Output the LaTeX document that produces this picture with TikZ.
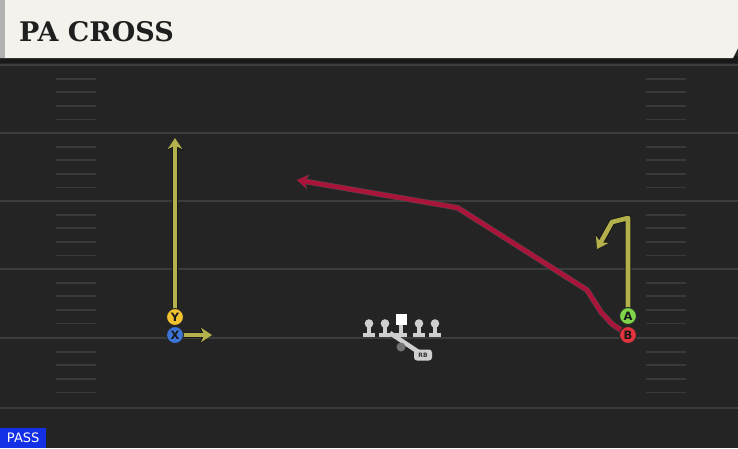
\documentclass[tikz,border=0pt]{standalone}
\usepackage{fontspec}
\setmainfont{DejaVu Sans}
\newfontfamily\titlefont{DejaVu Serif}
\usetikzlibrary{arrows.meta}
\definecolor{field}{HTML}{242424}
\definecolor{yardline}{HTML}{3C3C3C}
\definecolor{hashc}{HTML}{3A3A3A}
\definecolor{headbg}{HTML}{F4F2EC}
\definecolor{routeY}{HTML}{B4B14C}
\definecolor{routeR}{HTML}{A8143A}
\definecolor{pY}{HTML}{F2C230}
\definecolor{pX}{HTML}{3C74D8}
\definecolor{pA}{HTML}{7FD44A}
\definecolor{pB}{HTML}{E2333D}
\definecolor{oline}{HTML}{CFCFCF}
\definecolor{passblue}{HTML}{1430E6}
\tikzset{
  yard/.style={draw=yardline,line width=1.8pt},
  hashmark/.style={draw=hashc,line width=1.8pt},
  player/.style={circle,draw=black!85,line width=1pt,minimum size=17pt,inner sep=0pt,font=\bfseries\fontsize{11.5}{11.5}\selectfont,text=black!90},
  routeout/.style={draw=black!90,line width=6.6pt,line join=round,-{Stealth[length=13pt,width=18pt,inset=4pt]}},
  routeolive/.style={draw=routeY,line width=4.6pt,line join=round,-{Stealth[length=11pt,width=14.5pt,inset=3.4pt]}},
  routeredout/.style={draw=black!70,line width=5.6pt,line join=round,-{Stealth[length=11.5pt,width=15pt,inset=3.4pt]}},
  routered/.style={draw=routeR,line width=4.6pt,line join=round,-{Stealth[length=10.5pt,width=13.5pt,inset=3pt]}},
  lineman/.style={fill=oline}
}
\begin{document}
\begin{tikzpicture}[x=1pt,y=-1pt]
\useasboundingbox (0,0) rectangle (738,448);
\fill[field] (0,0) rectangle (738,448);
% yard lines
\foreach \y in {65,133,201,269,338,408} \draw[yard] (0,\y) -- (738,\y);
% hash marks
\foreach \y in {65,133,201,269,338} {
  \foreach \k in {1,2,3,4} {
    \draw[hashmark] (56,{\y+13.6*\k}) -- (96,{\y+13.6*\k});
    \draw[hashmark] (646,{\y+13.6*\k}) -- (686,{\y+13.6*\k});
  }
}
% header
\fill[black!90] (0,56) rectangle (738,63);
\fill[headbg] (0,0) -- (738,0) -- (738,48) -- (733,58) -- (0,58) -- cycle;
\fill[black!30] (0,0) rectangle (5,58);
\node[anchor=west,inner sep=0pt,text=black!88] (title) at (19,32) {\titlefont\bfseries\fontsize{27}{27}\selectfont PA CROSS};
% PASS label
\node[anchor=south west,fill=passblue,text=white,inner sep=0pt,minimum width=46pt,minimum height=20pt,font=\fontsize{13}{13}\selectfont] (pass) at (0,448) {PASS};
% route endpoints
\coordinate (yend) at (175,138);
\coordinate (xend) at (212,332);
\coordinate (a1) at (628,218);
\coordinate (a2) at (612,222);
\coordinate (aend) at (597,249);
\coordinate (b1) at (612,324);
\coordinate (b2) at (601,312);
\coordinate (b3) at (587,290);
\coordinate (b4) at (458,208);
\coordinate (b5) at (448,206);
\coordinate (bend) at (297,180);
% players positions
\coordinate (Yp) at (175,317);
\coordinate (Xp) at (175,335);
\coordinate (Ap) at (628,316);
\coordinate (Bp) at (628,335);
% routes (outline then colour)
\draw[routeout] (Yp) -- (yend);
\draw[routeolive] (Yp) -- (yend);
\draw[routeout] (Xp) -- (xend |- Xp);
\draw[routeolive] (Xp) -- (xend |- Xp);
\draw[routeout] (Ap) -- (a1) -- (a2) -- (aend);
\draw[routeolive] (Ap) -- (a1) -- (a2) -- (aend);
\draw[routeredout] (Bp) -- (b1) -- (b2) -- (b3) -- (b4) -- (b5) -- (bend);
\draw[routered] (Bp) -- (b1) -- (b2) -- (b3) -- (b4) -- (b5) -- (bend);
% players
\node[player,fill=pY] (Y) at (Yp) {Y};
\node[player,fill=pX] (X) at (Xp) {X};
\node[player,fill=pA] (A) at (Ap) {A};
\node[player,fill=pB] (B) at (Bp) {B};
% offensive line
\foreach \x/\n in {369/lt,385/lg,419/rg,435/rt} {
  \fill[lineman] (\x-6,332.5) rectangle (\x+6,337);
  \fill[lineman] (\x-2.2,325) rectangle (\x+2.2,334);
  \fill[lineman] (\x,323.5) circle (4.3);
  \coordinate (\n) at (\x,330);
}
\fill[lineman] (395,332.5) rectangle (407,337);
\fill[lineman] (398.8,325) rectangle (403.2,334);
\node[fill=white,minimum size=11pt,inner sep=0pt] (c) at (401,319.5) {};
% RB
\draw[oline,line width=4.5pt] (390,333) -- (420,353);
\node[circle,fill=black!55,minimum size=9pt,inner sep=0pt] (rbdot) at (401,347) {};
\node[fill=oline,rounded corners=3pt,minimum width=18pt,minimum height=11pt,inner sep=0pt,text=black!80,font=\bfseries\fontsize{6}{6}\selectfont] (rb) at (423,355) {RB};
\end{tikzpicture}
\end{document}
